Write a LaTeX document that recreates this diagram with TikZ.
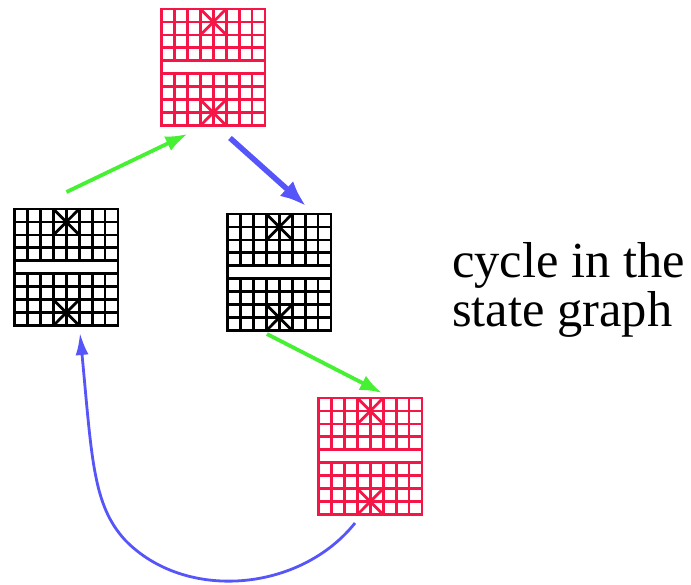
\documentclass[tikz,border=0pt]{standalone}
\usepackage{fontspec}
\setmainfont{Liberation Serif}
\usetikzlibrary{arrows.meta,calc}
\definecolor{gred}{RGB}{245,22,72}
\definecolor{ggreen}{RGB}{70,240,50}
\definecolor{gblue}{RGB}{85,85,250}
\tikzset{
  gridbox/.style={draw=none, inner sep=0pt, minimum width=103.2pt, minimum height=116.6pt},
  gridline/.style={line width=2.8pt},
  greenarrow/.style={draw=ggreen, line width=3.8pt, -{Latex[length=22pt,width=16pt]}},
  bluethick/.style={draw=gblue, line width=5.5pt, -{Latex[length=26pt,width=20pt]}},
  bluecurve/.style={draw=gblue, line width=2.8pt, -{Latex[length=22pt,width=13pt]}},
  caption/.style={anchor=base west, inner sep=0pt, font=\fontsize{50.5}{50.5}\selectfont}
}
\newcommand{\stategrid}[2]{%
  \begin{scope}[shift={(#1.north west)}, xscale=12.9, yscale=12.955, gridline, draw=#2]
    \draw (0,0) rectangle (8,9);
    \foreach \rr in {1,...,8} \draw (0,\rr) -- (8,\rr);
    \foreach \cc in {1,...,7} {\draw (\cc,0) -- (\cc,4); \draw (\cc,5) -- (\cc,9);}
    \draw (3,0) -- (5,2) (5,0) -- (3,2) (3,7) -- (5,9) (5,7) -- (3,9);
  \end{scope}}
\begin{document}
\begin{tikzpicture}[x=1pt, y=-1pt]
  \useasboundingbox (0,0) rectangle (691,584);
  \node[gridbox] (top) at (213.5,67.5) {};
  \node[gridbox] (left) at (66.5,267.5) {};
  \node[gridbox] (mid) at (279.5,272.5) {};
  \node[gridbox] (bot) at (370.5,456.5) {};
  \stategrid{top}{gred}
  \stategrid{left}{black}
  \stategrid{mid}{black}
  \stategrid{bot}{gred}
  % (x,y) offsets: positive y goes downward
  \coordinate (a1s) at ($(left.north)+(0,-17)$);
  \coordinate (a1e) at ($(top.south)+(-26,8)$);
  \coordinate (a2s) at ($(top.south)+(16.5,12)$);
  \coordinate (a2e) at ($(mid.north)+(26.5,-8)$);
  \coordinate (a3s) at ($(mid.south)+(-12.5,3)$);
  \coordinate (a3e) at ($(bot.north)+(11.5,-5)$);
  \coordinate (a4s) at ($(bot.south)+(-15.5,8)$);
  \coordinate (a4e) at ($(left.south)+(13.5,7)$);
  \draw[greenarrow] (a1s) -- (a1e);
  \draw[bluethick] (a2s) -- (a2e);
  \draw[greenarrow] (a3s) -- (a3e);
  \draw[bluecurve] (a4s) .. controls (300,592) and (185,602) .. (125,540)
                         .. controls (93,505) and (92,460) .. (a4e);
  \node[caption] (cap1) at (452,277) {cycle in the};
  \node[caption] (cap2) at (452,326) {state graph};
\end{tikzpicture}
\end{document}
